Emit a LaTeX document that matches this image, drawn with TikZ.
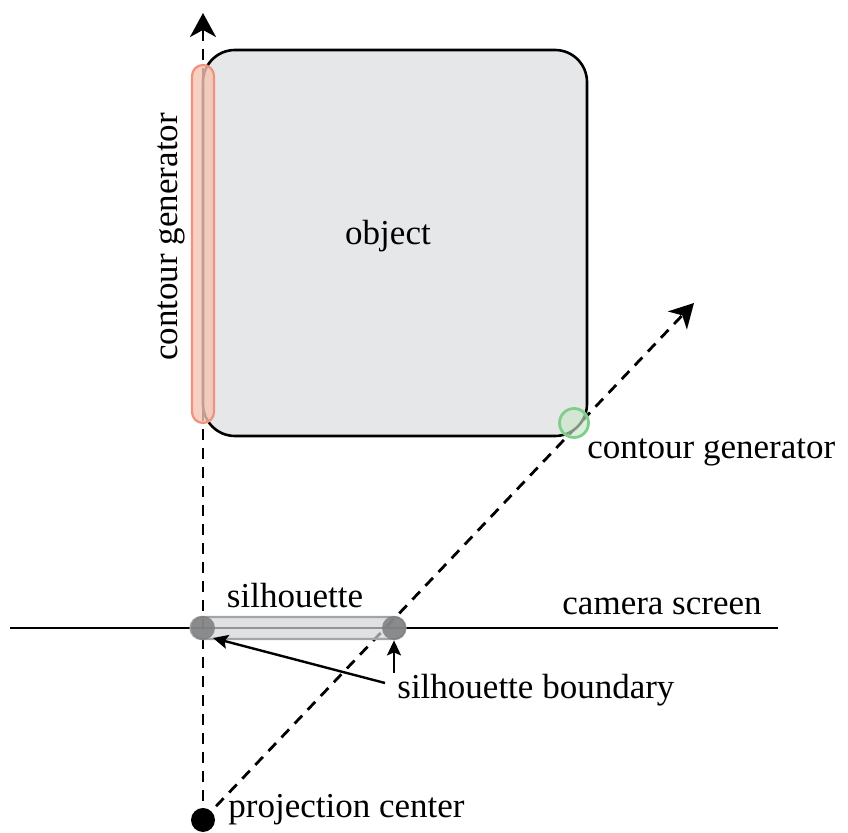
\documentclass[tikz,border=0pt]{standalone}
\usepackage{fontspec}
\setmainfont{Liberation Serif}
\usetikzlibrary{arrows.meta}

\definecolor{objfill}{HTML}{E6E7E9}
\definecolor{cgorange}{HTML}{F2917C}
\definecolor{cgorangefill}{HTML}{F5C4B5}
\definecolor{cggreen}{HTML}{7FCF8B}
\definecolor{cggreenfill}{HTML}{C9E6C9}
\definecolor{silfill}{HTML}{D3D4D6}
\definecolor{silline}{HTML}{A3A4A6}
\definecolor{silend}{HTML}{7C7D7F}

\tikzset{
  lbl/.style={font=\fontsize{17.5}{21}\selectfont, inner sep=0pt},
  rayline/.style={line width=1.4pt, dash pattern=on 5.5pt off 4pt},
  bigtip/.style={-{Stealth[length=12pt,width=13pt,inset=3.5pt]}},
  smalltip/.style={line width=1.2pt, -{Stealth[length=7.5pt,width=7pt,inset=1.5pt]}},
  objbox/.style={draw=black, fill=objfill, line width=1.3pt, rounded corners=16pt},
  contourcap/.style={draw=cgorange, fill=cgorangefill, line width=1.1pt, rounded corners=5.5pt, fill opacity=0.8},
  contourdot/.style={circle, draw=cggreen, fill=cggreenfill, line width=1.4pt, fill opacity=0.65, minimum size=14.5pt, inner sep=0pt},
  silcap/.style={draw=silline, fill=silfill, line width=1.1pt, rounded corners=5.5pt, fill opacity=0.7},
  silend/.style={circle, fill=silend, fill opacity=0.85, minimum size=12pt, inner sep=0pt},
}

\begin{document}
\begin{tikzpicture}[x=0.5pt,y=-0.5pt]
\useasboundingbox (0,0) rectangle (848,833);

% projection center and the two viewing rays
\coordinate (vtip) at (203,13);
\coordinate (dtip) at (694,303);
\node[circle, fill=black, minimum size=12pt, inner sep=0pt] (pc) at (203,820) {};
\draw[rayline, bigtip] (pc.center) -- (vtip);
\draw[rayline, bigtip] (pc.center) -- (dtip);

% the object
\node[objbox, minimum width=192pt, minimum height=193pt] (obj) at (395,243) {};
\node[lbl] (objlbl) at (388,236) {object};

% contour generators
\node[contourcap, minimum width=11pt, minimum height=179pt] (cgleft) at (203,244) {};
\node[lbl, rotate=90] (cgleftlbl) at (171,237) {contour generator};
\node[contourdot] (cgright) at (574,423) {};
\node[lbl, anchor=west] (cgrightlbl) at (587,452) {contour generator};

% camera screen
\coordinate (scrL) at (10,628);
\coordinate (scrR) at (778,628);
\draw[line width=1.3pt] (scrL) -- (scrR);
\node[lbl, anchor=east] (scrlbl) at (762,606) {camera screen};

% silhouette on the screen
\node[silcap, minimum width=107.5pt, minimum height=11pt] (sil) at (298,628) {};
\node[silend] (silA) at (203,628) {};
\node[silend] (silB) at (394,628) {};
\node[lbl] (sillbl) at (295,596) {silhouette};

% silhouette boundary label and its pointers
\node[lbl, anchor=west] (sb) at (397,690) {silhouette boundary};
\coordinate (sbA) at (385,683);
\coordinate (sbB) at (394,673);
\draw[smalltip] (sbA) -- (213,638);
\draw[smalltip] (sbB) -- (silB.south);

\node[lbl, anchor=west] (pclbl) at (228,810) {projection center};
\end{tikzpicture}
\end{document}
